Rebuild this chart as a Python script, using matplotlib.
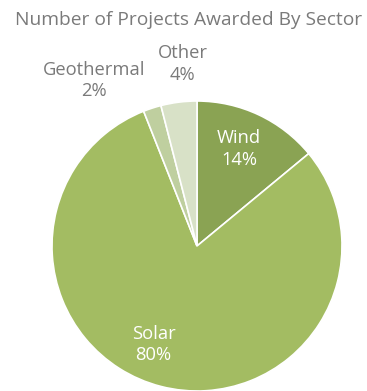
import matplotlib
matplotlib.use("Agg")
from matplotlib import pyplot as plt

# share of awarded projects by sector (%)
sectors = ["Wind", "Solar", "Geothermal", "Other"]
shares = [14, 80, 2, 4]
colors = ["#8aa353", "#a3bc62", "#bfcf9f", "#d8e1c7"]

# label spots in axes data units, text colour for each
label_pos = [(0.29, 0.67), (-0.30, -0.68), (-0.71, 1.14), (-0.10, 1.255)]
label_col = ["white", "white", "#7a7a7a", "#7a7a7a"]

plt.rcParams["font.family"] = ["Open Sans", "DejaVu Sans"]

fig = plt.figure(figsize=(3.67, 3.91), dpi=100)
ax = fig.add_axes([52 / 367, 0.0, 290 / 367, 290 / 391])

ax.pie(shares, colors=colors, startangle=90, counterclock=False,
       wedgeprops=dict(edgecolor="white", linewidth=1.2))
ax.set_xlim(-1, 1)
ax.set_ylim(-1, 1)
ax.set_aspect("auto")

for name, val, (x, y), c in zip(sectors, shares, label_pos, label_col):
    ax.text(x, y, f"{name}\n{val}%", ha="center", va="center", color=c,
            fontsize=13.2, linespacing=1.25, clip_on=False)

fig.text(0.513, 0.948, "Number of Projects Awarded By Sector", ha="center",
         va="center", color="#7a7a7a", fontsize=13.8)

fig.savefig("out.png", dpi=100)
